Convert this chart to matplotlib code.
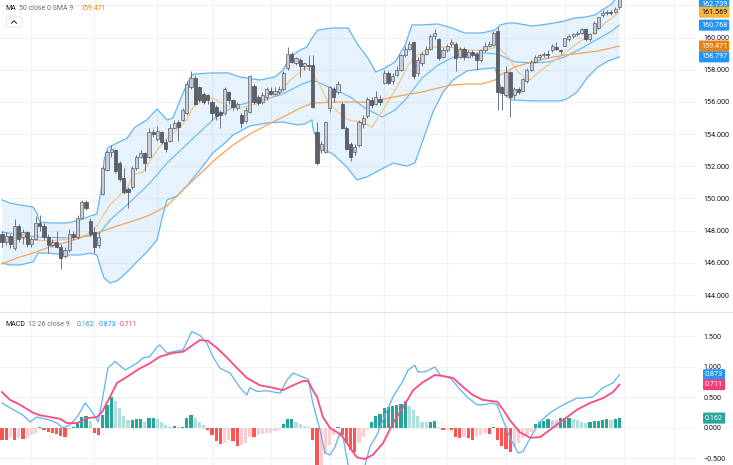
import matplotlib
matplotlib.use("Agg")
import matplotlib.pyplot as plt
from matplotlib.lines import Line2D
from matplotlib.patches import FancyBboxPatch
import numpy as np

plt.rcParams['font.family'] = ['Roboto', 'DejaVu Sans']

# ---------------- data ----------------
open_ = [147.8, 147.3, 147.7, 146.9, 148.3, 147.6, 147.9, 147.2, 147.5, 148.5,
         148.3, 147.6, 147.1, 147.3, 147.0, 146.4, 146.8, 147.8, 147.6, 148.8,
         149.8, 148.6, 147.9, 147.1, 150.3, 151.8, 152.9, 153.0, 152.2, 151.3,
         150.6, 150.7, 151.9, 152.6, 152.8, 152.6, 154.1, 153.7, 154.1, 153.5,
         153.6, 154.4, 154.75, 154.9, 155.3, 156.9, 157.5, 156.9, 156.5, 156.4,
         156.0, 155.7, 155.4, 155.3, 156.6, 156.1, 155.6, 155.2, 154.8, 155.4,
         157.0, 156.3, 156.0, 156.3, 156.7, 156.5, 156.6, 156.8, 158.1, 159.0,
         158.4, 158.6, 158.2, 158.3, 158.3, 154.1, 153.0, 152.9, 155.6, 156.8,
         156.6, 155.9, 154.4, 153.4, 152.9, 153.3, 154.6, 155.1, 156.1, 155.9,
         156.2, 157.2, 157.8, 157.3, 157.7, 158.0, 158.9, 159.3, 159.7, 157.8,
         158.4, 159.0, 159.3, 160.1, 159.9, 158.8, 159.2, 159.6, 159.6, 158.8,
         159.3, 158.8, 159.1, 159.0, 158.6, 159.2, 159.5, 159.55, 160.4, 156.9,
         156.4, 157.85, 156.45, 156.8, 156.7, 157.3, 158.0, 158.5, 158.8, 158.9,
         159.0, 159.2, 159.4, 159.2, 159.5, 159.9, 160.1, 160.2, 160.3, 160.5,
         159.9, 160.3, 160.6, 161.4, 161.5, 161.6, 161.6, 161.9]
close = [147.3, 147.7, 147.2, 148.3, 147.5, 147.9, 147.2, 147.5, 148.5, 148.3,
         147.6, 147.1, 147.3, 147.0, 146.3, 146.8, 147.8, 147.6, 148.8, 149.8,
         149.4, 147.8, 147.0, 147.6, 151.9, 152.9, 153.1, 151.7, 151.2, 150.4,
         150.4, 151.9, 152.6, 152.8, 152.2, 154.1, 154.0, 154.2, 153.5, 153.1,
         154.4, 154.7, 154.45, 155.5, 157.1, 157.5, 155.9, 156.1, 156.0, 156.1,
         155.3, 155.1, 155.2, 156.8, 156.1, 155.7, 155.9, 154.7, 155.5, 157.6,
         156.0, 155.95, 156.4, 156.8, 156.5, 156.7, 156.8, 157.8, 159.0, 158.5,
         158.7, 158.2, 158.4, 158.2, 155.7, 152.2, 153.4, 154.75, 156.9, 156.3,
         157.1, 154.4, 153.1, 152.6, 153.2, 154.75, 155.0, 156.2, 155.8, 156.3,
         156.0, 157.8, 157.2, 157.6, 158.0, 158.9, 159.3, 159.6, 157.6, 158.6,
         159.0, 159.3, 160.1, 160.3, 158.7, 159.2, 159.5, 159.7, 158.7, 159.3,
         158.8, 159.1, 158.9, 158.6, 159.2, 159.5, 159.6, 160.3, 156.6, 156.55,
         157.85, 156.3, 156.8, 156.6, 157.4, 158.0, 158.5, 158.8, 158.9, 159.0,
         158.9, 159.5, 159.3, 159.15, 159.95, 160.1, 160.2, 160.3, 160.5, 159.9,
         160.2, 160.9, 161.25, 161.55, 161.6, 161.5, 161.8, 162.5]
high = [148.0, 147.9, 147.8, 148.7, 148.4, 148.1, 148.0, 147.6, 148.9, 149.0,
        148.5, 147.8, 147.5, 148.0, 147.2, 147.0, 148.1, 148.0, 149.0, 149.9,
        149.9, 148.8, 148.2, 147.9, 152.0, 153.0, 153.3, 153.1, 152.3, 151.9,
        150.7, 152.0, 152.7, 153.0, 152.9, 154.4, 154.3, 154.5, 154.2, 153.7,
        154.6, 154.9, 154.9, 155.6, 157.3, 157.9, 157.7, 157.0, 156.6, 156.5,
        156.1, 155.8, 155.5, 156.9, 156.7, 156.2, 156.0, 155.3, 155.7, 157.7,
        157.1, 156.4, 156.6, 156.9, 156.9, 156.9, 157.0, 157.9, 159.4, 159.1,
        158.8, 158.7, 158.5, 158.9, 158.9, 154.75, 153.6, 154.8, 157.0, 156.9,
        157.3, 156.0, 154.5, 153.5, 153.4, 154.9, 155.2, 156.3, 156.3, 156.7,
        156.4, 158.0, 157.9, 157.8, 158.2, 159.0, 159.5, 159.8, 159.8, 158.8,
        159.1, 159.5, 160.2, 160.5, 160.0, 159.4, 159.6, 159.9, 159.7, 159.4,
        159.4, 159.2, 159.2, 159.1, 159.3, 159.7, 159.8, 160.4, 160.65, 157.0,
        158.2, 157.9, 156.9, 156.9, 157.5, 158.1, 158.6, 158.9, 159.0, 159.1,
        159.2, 159.6, 159.7, 159.3, 160.0, 160.2, 160.3, 160.4, 160.6, 160.6,
        160.3, 161.0, 161.3, 161.7, 161.7, 161.7, 161.9, 162.6]
low = [147.0, 147.1, 146.9, 146.8, 147.3, 147.2, 147.0, 147.0, 147.4, 148.0,
       147.4, 146.6, 147.0, 146.9, 145.6, 146.3, 146.7, 147.4, 147.5, 148.7,
       149.3, 147.7, 146.6, 146.9, 150.2, 151.7, 152.6, 151.6, 151.1, 150.3,
       149.4, 150.6, 151.8, 152.5, 151.7, 152.5, 153.8, 153.6, 153.4, 152.9,
       153.5, 154.3, 153.6, 154.8, 155.2, 156.8, 155.8, 156.0, 155.9, 155.9,
       154.9, 154.9, 154.4, 155.2, 155.9, 155.5, 155.5, 154.4, 154.7, 155.3,
       155.9, 155.8, 155.9, 156.1, 156.4, 156.4, 156.5, 156.7, 158.0, 158.4,
       158.3, 157.55, 158.0, 158.0, 155.6, 152.1, 152.8, 152.8, 155.4, 156.0,
       156.5, 154.3, 153.0, 152.3, 152.7, 153.2, 154.4, 155.0, 155.6, 155.8,
       155.8, 157.1, 157.1, 157.1, 157.6, 157.9, 158.8, 159.2, 157.4, 157.6,
       158.2, 158.9, 159.2, 159.9, 158.6, 158.7, 159.1, 159.4, 157.9, 158.7,
       158.6, 158.7, 158.8, 157.98, 158.5, 159.1, 159.4, 159.5, 155.5, 155.5,
       156.3, 155.06, 156.2, 156.5, 156.6, 157.2, 157.9, 158.4, 158.6, 158.8,
       158.7, 159.1, 159.2, 159.0, 159.45, 159.8, 160.0, 160.1, 160.2, 159.8,
       159.8, 160.2, 160.5, 161.3, 161.4, 161.4, 161.5, 161.8]

# Bollinger upper / lower / basis, short MA, MA50  (bar index, price)
bb_up_x = [0, 1.9, 4.3, 7.4, 8.3, 9.0, 11.4, 15.5, 18.6, 21.0, 22.6, 23.6, 24.3, 25.2, 27.4, 29.8,
           31.7, 34.5, 36.9, 39.3, 40.7, 42.9, 44.3, 45.5, 50.2, 53.8, 56.7, 61.4, 65.0, 66.9, 68.6,
           71.0, 72.6, 73.8, 75.2, 78.6, 82.4, 84.8, 87.1, 89.0, 91.2, 93.6, 96.0, 97.6, 100.0,
           103.8, 107.1, 110.2, 114.3, 117.4, 118.6, 120.5, 122.1, 126.2, 130.0, 134.0, 136.4,
           138.8, 141.2, 142.9, 145.2, 147]
bb_up_y = [149.91, 149.72, 149.60, 149.47, 149.10, 148.54, 148.48, 148.48, 148.66, 148.91, 149.04,
           150.53, 152.39, 153.14, 153.45, 153.75, 154.44, 154.88, 155.56, 154.88, 155.00, 156.43,
           157.24, 157.73, 157.80, 157.80, 157.55, 157.36, 157.55, 157.98, 158.79, 159.22, 159.41,
           159.97, 160.47, 160.59, 160.59, 159.53, 158.73, 157.86, 158.11, 158.48, 159.53, 160.78,
           160.78, 160.84, 160.59, 160.28, 160.28, 160.47, 160.78, 160.90, 160.90, 160.71, 160.84,
           161.03, 161.21, 161.27, 161.40, 161.71, 162.08, 162.739]
bb_lo_x = [0, 1.9, 4.3, 7.4, 8.6, 10.7, 15.5, 18.6, 21.0, 22.6, 23.3, 24.3, 25.7, 27.4, 29.8, 32.1,
           34.5, 36.9, 38.3, 39.3, 41.7, 44.0, 47.1, 50.2, 53.1, 55.0, 59.0, 63.1, 66.9, 70.2, 72.1,
           73.8, 74.0, 75.7, 78.8, 82.1, 84.5, 86.9, 90.0, 93.1, 96.4, 98.3, 100.0, 102.6, 105.0,
           107.4, 110.7, 113.8, 117.4, 118.3, 119.3, 121.4, 126.2, 132.9, 134.5, 136.9, 139.5,
           141.9, 144.3, 147]
bb_lo_y = [145.99, 145.87, 145.87, 146.06, 146.61, 146.61, 146.49, 146.49, 146.61, 146.49, 145.87,
           145.06, 144.75, 144.88, 145.43, 146.06, 146.68, 147.42, 148.97, 149.91, 150.16, 150.77,
           151.77, 152.83, 153.45, 153.94, 154.50, 154.69, 154.75, 154.57, 154.63, 154.88, 154.38,
           153.14, 152.76, 151.96, 151.15, 151.34, 151.77, 152.20, 152.01, 152.20, 153.45, 155.37,
           156.61, 157.36, 157.92, 158.04, 158.11, 157.24, 156.55, 156.12, 156.06, 156.06, 156.18,
           156.61, 157.55, 158.17, 158.54, 158.797]
bb_mid_x = [0, 4.3, 9.0, 15.5, 21.0, 23.3, 25.7, 29.8, 35.2, 39.3, 43.1, 47.1, 51.2, 55.0, 59.0,
            63.1, 66.9, 71.0, 74.0, 80.0, 82.9, 86.4, 90.5, 93.6, 96.0, 100.0, 103.8, 107.9, 111.0,
            115.0, 118.1, 122.1, 126.2, 130.0, 134.0, 138.1, 141.9, 144.8, 147]
bb_mid_y = [147.92, 147.73, 147.61, 147.55, 147.67, 147.86, 148.66, 149.60, 150.96, 152.20, 153.14,
            154.13, 155.12, 155.68, 155.99, 156.18, 156.49, 157.05, 157.36, 156.68, 156.30, 155.62,
            155.06, 155.50, 156.12, 157.48, 158.29, 158.85, 158.97, 159.04, 158.97, 158.48, 158.42,
            158.48, 158.79, 159.35, 159.91, 160.34, 160.768]
ma_fast_x = [0, 7.4, 11.4, 15.5, 19.3, 21.0, 22.6, 24.0, 25.7, 28.1, 29.8, 31.2, 33.6, 36.0, 38.3,
             41.7, 44.0, 45.5, 47.9, 50.2, 53.6, 56.7, 59.8, 63.1, 66.2, 68.6, 71.0, 72.1, 73.8,
             75.7, 77.6, 80.0, 82.4, 85.7, 88.1, 89.5, 91.9, 94.3, 96.7, 99.0, 102.4, 105.5, 108.6,
             111.0, 115.0, 118.1, 120.5, 122.9, 125.7, 127.6, 131.0, 134.0, 138.1, 141.2, 143.6, 147]
ma_fast_y = [147.67, 147.42, 147.36, 147.48, 147.67, 147.92, 148.29, 148.91, 149.60, 150.22, 150.65,
             151.46, 151.65, 152.64, 153.51, 154.25, 154.88, 155.68, 156.12, 156.24, 155.75, 155.62,
             155.81, 156.12, 156.61, 157.36, 157.86, 158.17, 157.86, 157.05, 155.99, 155.37, 154.88,
             154.75, 154.44, 155.00, 155.99, 157.05, 158.29, 158.91, 159.41, 159.41, 159.35, 159.22,
             159.22, 159.41, 158.79, 157.86, 157.36, 157.80, 158.48, 159.04, 159.84, 160.34, 160.90,
             161.569]
ma50_x = [0, 3.6, 7.4, 11.4, 15.5, 19.3, 23.3, 27.4, 31.2, 35.2, 39.3, 43.1, 47.1, 51.2, 55.0, 59.0,
          63.1, 66.9, 71.0, 74.0, 80.0, 88.1, 91.9, 96.0, 100.0, 103.8, 107.1, 111.0, 114.3, 117.4,
          118.6, 120.5, 122.1, 126.2, 130.0, 134.0, 138.1, 141.9, 147]
ma50_y = [145.93, 146.31, 146.61, 146.99, 147.30, 147.61, 147.92, 148.29, 148.60, 148.97, 149.54,
          150.53, 151.52, 152.52, 153.32, 154.00, 154.57, 155.06, 155.62, 155.93, 155.99, 155.99,
          156.24, 156.43, 156.61, 156.86, 157.05, 157.11, 157.11, 157.36, 157.67, 157.92, 158.17,
          158.48, 158.73, 158.91, 159.04, 159.16, 159.471]

# MACD (12, 26, 9)
macd_x = [0, 1.9, 5.0, 6.7, 8.3, 11.4, 13.1, 14.5, 16.2, 17.9, 19.8, 21.4, 22.9, 24.0, 25.2, 26.9,
          29.3, 32.1, 33.6, 35.2, 36.9, 37.6, 39.3, 40.7, 43.1, 45.2, 47.1, 48.8, 50.2, 51.9, 54.3,
          56.7, 58.3, 59.0, 60.7, 63.1, 66.2, 67.9, 69.3, 72.9, 74.0, 75.7, 76.9, 78.1, 79.3, 80.5,
          81.2, 82.4, 83.3, 84.8, 86.4, 87.6, 89.3, 90.7, 93.1, 95.2, 96.7, 98.3, 99.0, 100.7,
          103.1, 104.3, 106.7, 108.6, 110.7, 113.1, 114.5, 116.7, 117.9, 119.0, 120.9, 122.9,
          124.0, 126.2, 128.1, 130.5, 133.6, 136.9, 138.3, 140.7, 143.1, 145.5, 147]
macd_y = [0.41, 0.33, 0.21, 0.10, 0.18, 0.13, 0.08, 0.00, 0.05, 0.18, 0.41, 0.27, 0.10, 0.51, 0.98,
          1.09, 0.95, 1.06, 1.15, 1.17, 1.33, 1.36, 1.23, 1.25, 1.28, 1.58, 1.52, 1.39, 1.17, 0.98,
          0.90, 0.66, 0.54, 0.66, 0.60, 0.61, 0.57, 0.79, 0.90, 0.80, 0.41, -0.03, -0.41, -0.44,
          -0.31, -0.07, -0.15, -0.60, -0.80, -0.85, -0.62, -0.31, -0.11, 0.13, 0.51, 0.74, 0.95,
          1.03, 0.92, 0.92, 1.00, 0.87, 0.82, 0.67, 0.51, 0.38, 0.38, 0.41, 0.38, 0.18, -0.15,
          -0.41, -0.39, -0.11, 0.10, 0.25, 0.38, 0.49, 0.49, 0.51, 0.66, 0.74, 0.873]
signal_x = [0, 1.9, 4.3, 7.4, 9.0, 11.4, 13.8, 15.5, 17.9, 20.2, 22.6, 23.8, 25.7, 27.4, 29.8, 32.9,
            35.2, 37.6, 40.7, 43.1, 44.8, 47.1, 49.0, 51.2, 53.6, 56.0, 58.3, 61.4, 64.5, 66.9,
            69.3, 71.7, 72.9, 74.0, 75.0, 76.4, 78.1, 79.8, 81.2, 82.9, 84.5, 86.4, 88.3, 90.7,
            93.1, 95.5, 97.9, 100.2, 103.1, 105.0, 107.4, 109.8, 112.1, 114.5, 117.9, 119.3,
            120.9, 123.3, 125.7, 128.1, 130.5, 133.6, 136.9, 140.0, 143.1, 145.5, 147]
signal_y = [0.59, 0.46, 0.38, 0.25, 0.21, 0.18, 0.15, 0.08, 0.08, 0.16, 0.18, 0.26, 0.51, 0.74,
            0.84, 0.98, 1.06, 1.17, 1.23, 1.25, 1.33, 1.44, 1.43, 1.31, 1.15, 0.98, 0.82, 0.70,
            0.66, 0.62, 0.70, 0.77, 0.77, 0.62, 0.51, 0.18, 0.00, -0.07, -0.15, -0.33, -0.48,
            -0.51, -0.44, -0.25, 0.08, 0.34, 0.62, 0.75, 0.87, 0.85, 0.82, 0.67, 0.54, 0.46, 0.43,
            0.30, 0.13, -0.07, -0.16, -0.15, -0.03, 0.13, 0.30, 0.41, 0.49, 0.59, 0.711]
hist = [-0.20, -0.20, -0.15, -0.20, -0.17, -0.18, -0.17, -0.12, -0.09, 0.01,
        -0.03, -0.06, -0.08, -0.10, -0.13, -0.14, -0.03, 0.02, 0.10, 0.18,
        0.19, 0.12, -0.08, -0.11, 0.21, 0.38, 0.51, 0.44, 0.33, 0.19,
        0.13, 0.135, 0.14, 0.15, 0.10, 0.16, 0.17, 0.15, 0.10, 0.05,
        0.01, 0.03, 0.01, 0.02, 0.16, 0.21, 0.16, 0.10, 0.05, -0.04,
        -0.12, -0.22, -0.27, -0.25, -0.20, -0.22, -0.30, -0.28, -0.25, -0.14,
        -0.15, -0.12, -0.10, -0.09, -0.085, -0.05, -0.03, 0.07, 0.14, 0.145,
        0.10, 0.06, 0.03, 0.01, -0.20, -0.62, -0.60, -0.42, -0.28, -0.12,
        0.01, -0.11, -0.25, -0.36, -0.40, -0.25, -0.14, -0.04, 0.10, 0.19,
        0.23, 0.32, 0.34, 0.36, 0.37, 0.40, 0.44, 0.36, 0.30, 0.19,
        0.10, 0.09, 0.10, 0.12, 0.01, -0.04, -0.03, -0.04, -0.14, -0.17,
        -0.14, -0.17, -0.19, -0.14, -0.11, -0.09, -0.10, 0.01, -0.20, -0.30,
        -0.34, -0.39, -0.31, -0.25, -0.17, -0.11, -0.06, 0.07, 0.10, 0.11,
        0.14, 0.135, 0.13, 0.16, 0.165, 0.17, 0.15, 0.13, 0.10, 0.08,
        0.09, 0.11, 0.12, 0.13, 0.14, 0.13, 0.145, 0.162]

price_ticks = [144, 146, 148, 150, 152, 154, 156, 158, 160, 162]
macd_ticks = [-0.5, 0.0, 0.5, 1.0, 1.5]
date_ticks = [7, 22, 37, 50, 64, 78, 91, 106, 120, 134, 148, 160]

last_vals = {'bb_up': 162.739, 'fast': 161.569, 'bb_mid': 160.768, 'ma50': 159.471, 'bb_lo': 158.797}
macd_last, signal_last, hist_last = 0.873, 0.711, 0.162

# ---------------- figure ----------------
W, H = 733, 465
fig = plt.figure(figsize=(W / 100, H / 100), dpi=100)
fig.patch.set_facecolor('white')
PR = 697  # right edge of plot area (px)
ax = fig.add_axes([0, 1 - 311 / H, PR / W, 311 / H])
axm = fig.add_axes([0, 0, PR / W, 152 / H])

XL = (-0.476, 165.48)
GRID = '#f0f2f6'
TXT = '#131722'
FS = 5.2

for a in (ax, axm):
    a.set_xlim(*XL)
    a.set_facecolor('white')
    for s in a.spines.values():
        s.set_visible(False)
    a.tick_params(axis='x', bottom=False, labelbottom=False)
    a.yaxis.tick_right()
    a.tick_params(axis='y', length=0, pad=4.5, labelsize=FS, labelcolor=TXT)
    for d in date_ticks:
        a.axvline(d, color=GRID, lw=0.8, zorder=0)

ax.set_ylim(143.01, 162.33)
axm.set_ylim(-0.607, 1.885)

for p in price_ticks:
    ax.axhline(p, color=GRID, lw=0.8, zorder=0)
ax.set_yticks(price_ticks[:-1])
ax.set_yticklabels([f"{p:.3f}" for p in price_ticks[:-1]])
for m in macd_ticks:
    axm.axhline(m, color=GRID, lw=0.8, zorder=0)
axm.set_yticks(macd_ticks)
axm.set_yticklabels([f"{m:.3f}".replace('-', '\u2212') for m in macd_ticks])

# Bollinger band fill + lines
BLUE_L = '#64b5f6'
poly_x = list(bb_up_x) + list(bb_lo_x[::-1])
poly_y = list(bb_up_y) + list(bb_lo_y[::-1])
ax.fill(poly_x, poly_y, color='#2196f3', alpha=0.11, lw=0, zorder=1)
ax.plot(bb_up_x, bb_up_y, color=BLUE_L, lw=0.9, zorder=2)
ax.plot(bb_lo_x, bb_lo_y, color=BLUE_L, lw=0.9, zorder=2)
ax.plot(bb_mid_x, bb_mid_y, color=BLUE_L, lw=0.8, zorder=2)
ax.plot(ma_fast_x, ma_fast_y, color='#f3c78e', lw=0.9, zorder=2)
ax.plot(ma50_x, ma50_y, color='#f5a35c', lw=0.9, zorder=2)

# candles
o = np.array(open_); c = np.array(close); h = np.array(high); l = np.array(low)
idx = np.arange(len(c))
up = c >= o
lo_b = np.minimum(o, c)
hb = np.maximum(np.abs(c - o), 0.04)
ax.vlines(idx, l, h, color='#5d606b', lw=0.6, zorder=3)
ax.bar(idx[up], hb[up], bottom=lo_b[up], width=0.72, color='#c9ccd4',
       edgecolor='#5d606b', linewidth=0.5, zorder=4)
ax.bar(idx[~up], hb[~up], bottom=lo_b[~up], width=0.72, color='#5d606b',
       edgecolor='#4a4d57', linewidth=0.5, zorder=4)

# MACD histogram
hv = np.array(hist)
cols = []
for i, v in enumerate(hv):
    prev = hv[i - 1] if i > 0 else v
    if v >= 0:
        cols.append('#26a69a' if v > prev else '#b2dfdb')
    else:
        cols.append('#ffcdd2' if v > prev else '#ff5252')
axm.bar(np.arange(len(hv)), hv, width=0.75, color=cols, zorder=2)
axm.plot(macd_x, macd_y, color='#5eb2f5', lw=0.9, zorder=3)
axm.plot(signal_x, signal_y, color='#ff4a7d', lw=1.3, zorder=4)

# right-side value labels
def vlabel(a, y, txt, fc, tc='white'):
    a.text(1.0245, y, txt, transform=a.get_yaxis_transform(), ha='center', va='center',
           fontsize=FS, color=tc, zorder=10, clip_on=False,
           bbox=dict(boxstyle='round,pad=0.28,rounding_size=0.15', fc=fc, ec='none'))

top = ax.get_ylim()[1]
vlabel(ax, min(last_vals['bb_up'], top - 4.2 / 16.1), f"{last_vals['bb_up']:.3f}", '#2196f3')
vlabel(ax, last_vals['fast'], f"{last_vals['fast']:.3f}", '#f7b63d', tc=TXT)
vlabel(ax, last_vals['bb_mid'], f"{last_vals['bb_mid']:.3f}", '#2196f3')
vlabel(ax, last_vals['ma50'], f"{last_vals['ma50']:.3f}", '#ea8212')
vlabel(ax, last_vals['bb_lo'], f"{last_vals['bb_lo']:.3f}", '#2196f3')
vlabel(axm, macd_last, f"{macd_last:.3f}", '#2196f3')
vlabel(axm, signal_last, f"{signal_last:.3f}", '#f23f78')
vlabel(axm, hist_last, f"{hist_last:.3f}", '#26a69a')

# pane separator
fig.add_artist(Line2D([0, 1], [1 - 312 / H, 1 - 312 / H], transform=fig.transFigure,
                      color='#e0e3eb', lw=0.8))

# legends: pieces laid out left to right with measured widths
renderer = fig.canvas.get_renderer()
def legend_row(x0, y, pieces, fs=5.0):
    x = x0
    for s, color, gap in pieces:
        t = fig.text(x / W, 1 - y / H, s, color=color, fontsize=fs, ha='left', va='center')
        bb = t.get_window_extent(renderer=renderer)
        x += bb.width + gap

legend_row(5, 8, [('MA', TXT, 3.0), ('50 close 0 SMA 9', '#6a6d78', 7.0),
                  (f"{last_vals['ma50']:.3f}", '#f57c00', 0)])
legend_row(5, 324, [('MACD', TXT, 3.0), ('12 26 close 9', '#6a6d78', 7.0),
                    (f"{hist_last:.3f}", '#22ab94', 4.0), (f"{macd_last:.3f}", '#2196f3', 4.0),
                    (f"{signal_last:.3f}", '#f23f78', 0)])

# collapse button
btn = FancyBboxPatch((6 / W, 1 - 27 / H), 16 / W, 10 / H, boxstyle='round,pad=0,rounding_size=0.004',
                     transform=fig.transFigure, fc='white', ec='#e0e3eb', lw=0.7)
fig.add_artist(btn)
fig.add_artist(Line2D([11.5 / W, 14 / W, 16.5 / W], [1 - 23.2 / H, 1 - 20.8 / H, 1 - 23.2 / H],
                      transform=fig.transFigure, color='#131722', lw=0.7))

fig.savefig('out.png', dpi=100, facecolor='white')
